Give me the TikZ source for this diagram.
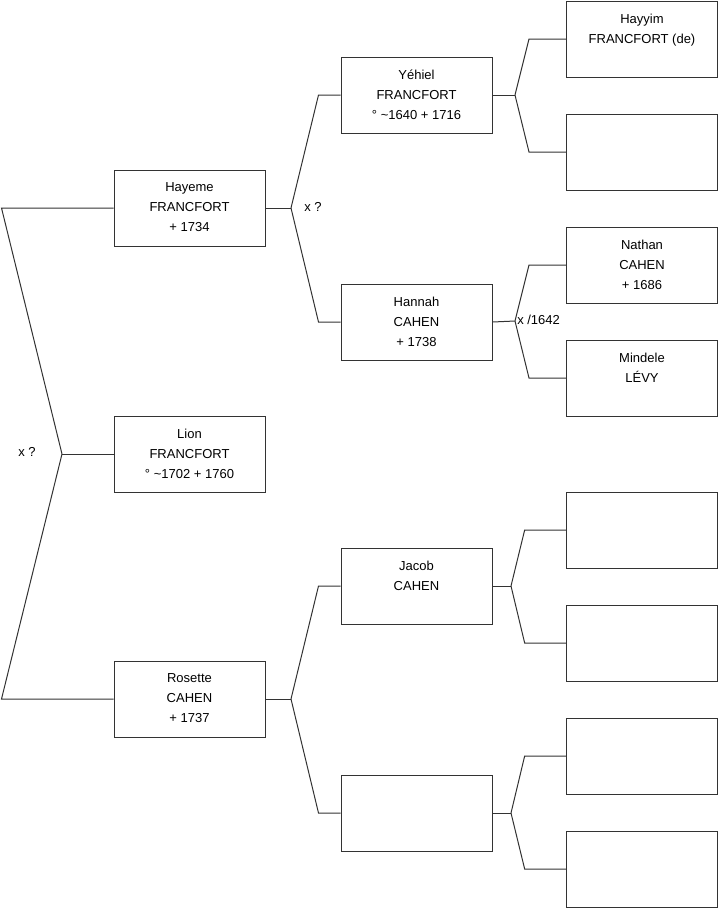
\documentclass[tikz,border=0pt]{standalone}
\usepackage{fontspec}
\setmainfont{Liberation Sans}
\usetikzlibrary{positioning}

\tikzset{
  person/.style={draw=black!80, line width=0.75pt, minimum width=113.25pt, minimum height=57pt, inner sep=0pt},
  who/.style={anchor=north, align=center, font=\fontsize{9.75}{15}\selectfont, yshift=-6.5pt},
  link/.style={draw=black!80, line width=0.75pt},
  union/.style={anchor=west, inner sep=0pt, font=\fontsize{9.75}{12}\selectfont}
}

\begin{document}
\begin{tikzpicture}[x=0.75pt, y=-0.75pt]
  \useasboundingbox (0,0) rectangle (719,908);
  % generation 1
  \node[person, label={[who]north:{Hayeme\\FRANCFORT\\+ 1734}}] (hayeme) at (189.5,208) {};
  \node[person, label={[who]north:{Lion\\FRANCFORT\\° \textasciitilde1702 + 1760}}] (lion) at (189.5,454) {};
  \node[person, label={[who]north:{Rosette\\CAHEN\\+ 1737}}] (rosette) at (189.5,699) {};
  % generation 2
  \node[person, label={[who]north:{Yéhiel\\FRANCFORT\\° \textasciitilde1640 + 1716}}] (yehiel) at (416.5,95) {};
  \node[person, label={[who]north:{Hannah\\CAHEN\\+ 1738}}] (hannah) at (416.5,322) {};
  \node[person, label={[who]north:{Jacob\\CAHEN}}] (jacob) at (416.5,586) {};
  \node[person] (mother) at (416.5,813) {};
  % generation 3
  \node[person, label={[who]north:{Hayyim\\FRANCFORT (de)}}] (hayyim) at (642,39) {};
  \node[person] (yehielm) at (642,152) {};
  \node[person, label={[who]north:{Nathan\\CAHEN\\+ 1686}}] (nathan) at (642,265) {};
  \node[person, label={[who]north:{Mindele\\LÉVY}}] (mindele) at (642,378) {};
  \node[person] (jacobf) at (642,530) {};
  \node[person] (jacobm) at (642,643) {};
  \node[person] (motherf) at (642,756) {};
  \node[person] (motherm) at (642,869) {};

  % branch points
  \coordinate (v0) at (62,454);
  \coordinate (v1) at (291,208);
  \coordinate (v2) at (291,699);
  \coordinate (v3) at (515,95);
  \coordinate (v4) at (515,321);
  \coordinate (v5) at (511,586);
  \coordinate (v6) at (511,813);

  % connectors
  \draw[link] (v0) -- ([xshift=-84pt]hayeme.west) -- (hayeme.west);
  \draw[link] (v0) -- ([xshift=-84pt]rosette.west) -- (rosette.west);
  \draw[link] (v0) -- (lion.west);

  \draw[link] (hayeme.east) -- (v1);
  \draw[link] (v1) -- ([xshift=-16.5pt]yehiel.west) -- (yehiel.west);
  \draw[link] (v1) -- ([xshift=-16.5pt]hannah.west) -- (hannah.west);
  \draw[link] (rosette.east) -- (v2);
  \draw[link] (v2) -- ([xshift=-16.5pt]jacob.west) -- (jacob.west);
  \draw[link] (v2) -- ([xshift=-16.5pt]mother.west) -- (mother.west);

  \draw[link] (yehiel.east) -- (v3);
  \draw[link] (v3) -- ([xshift=-27.75pt]hayyim.west) -- (hayyim.west);
  \draw[link] (v3) -- ([xshift=-27.75pt]yehielm.west) -- (yehielm.west);
  \draw[link] (hannah.east) -- (v4);
  \draw[link] (v4) -- ([xshift=-27.75pt]nathan.west) -- (nathan.west);
  \draw[link] (v4) -- ([xshift=-27.75pt]mindele.west) -- (mindele.west);
  \draw[link] (jacob.east) -- (v5);
  \draw[link] (v5) -- ([xshift=-31pt]jacobf.west) -- (jacobf.west);
  \draw[link] (v5) -- ([xshift=-31pt]jacobm.west) -- (jacobm.west);
  \draw[link] (mother.east) -- (v6);
  \draw[link] (v6) -- ([xshift=-31pt]motherf.west) -- (motherf.west);
  \draw[link] (v6) -- ([xshift=-31pt]motherm.west) -- (motherm.west);

  % marriages
  \node[union] (u0) at (18,452) {x ?};
  \node[union] (u1) at (304,207) {x ?};
  \node[union] (u2) at (517,320) {x /1642};
\end{tikzpicture}
\end{document}
